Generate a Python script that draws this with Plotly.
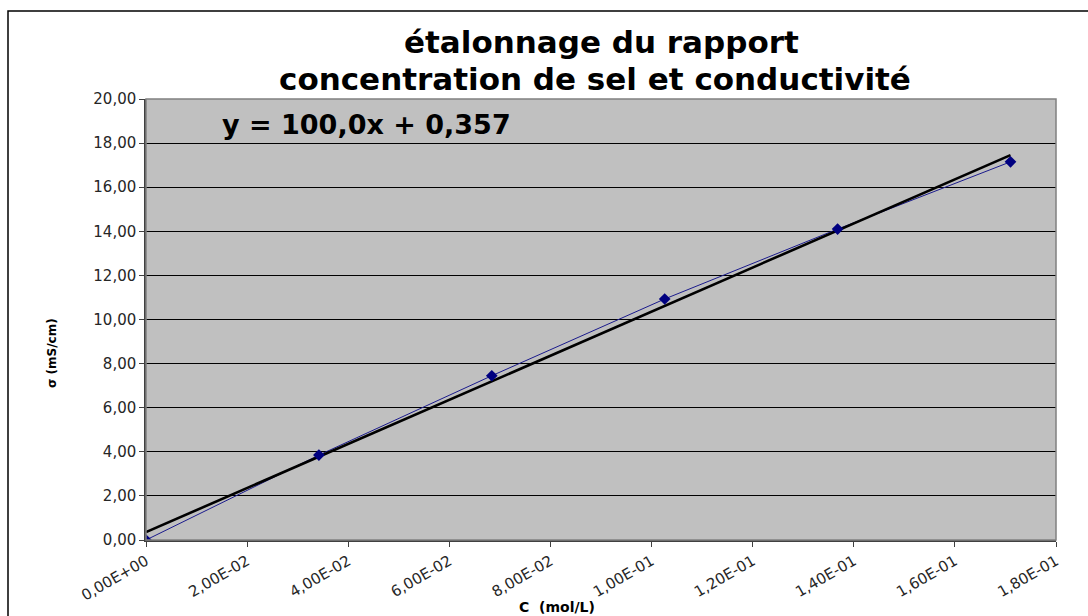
import plotly.graph_objects as go

# Data
conc = [0.0, 0.0342, 0.0684, 0.1026, 0.1368, 0.171]          # C (mol/L)
sigma = [0.0, 3.85, 7.45, 10.93, 14.10, 17.15]                # sigma (mS/cm)

# Linear trend line as displayed on the chart
trend_slope = 100.0
trend_intercept = 0.357
trend_x = [conc[0], conc[-1]]
trend_y = [trend_slope * v + trend_intercept for v in trend_x]

x_tickvals = [0.0, 0.02, 0.04, 0.06, 0.08, 0.10, 0.12, 0.14, 0.16, 0.18]
x_ticktext = ["0,00E+00", "2,00E-02", "4,00E-02", "6,00E-02", "8,00E-02",
              "1,00E-01", "1,20E-01", "1,40E-01", "1,60E-01", "1,80E-01"]
y_tickvals = [0, 2, 4, 6, 8, 10, 12, 14, 16, 18, 20]
y_ticktext = ["0,00", "2,00", "4,00", "6,00", "8,00", "10,00",
              "12,00", "14,00", "16,00", "18,00", "20,00"]

title_lines = ["étalonnage du rapport", "concentration de sel et conductivité"]
equation_text = "y = 100,0x + 0,357"
x_title = "C  (mol/L)"
y_title = "σ (mS/cm)"

W, H = 1088, 616
L, R, T, B = 146, 32, 99, 76
pw = W - L - R
ph = H - T - B


def px_x(px):
    return (px - L) / pw


def px_y(py):
    return 1 - (py - T) / ph


FONT = "DejaVu Sans, Arial, sans-serif"

fig = go.Figure()
fig.add_trace(go.Scatter(x=conc, y=sigma, mode="lines",
                         line=dict(color="#1a1a8c", width=1),
                         showlegend=False, hoverinfo="skip"))
fig.add_trace(go.Scatter(x=trend_x, y=trend_y, mode="lines",
                         line=dict(color="#000000", width=2.6),
                         showlegend=False))
fig.add_trace(go.Scatter(x=conc, y=sigma, mode="markers",
                         marker=dict(symbol="diamond", size=9, color="#000080"),
                         showlegend=False))

annotations = [
    dict(text=title_lines[0], xref="paper", yref="paper",
         x=px_x(601), y=px_y(42), xanchor="center", yanchor="middle",
         showarrow=False,
         font=dict(family=FONT, size=31, color="#000000", weight="bold")),
    dict(text=title_lines[1], xref="paper", yref="paper",
         x=px_x(595), y=px_y(79), xanchor="center", yanchor="middle",
         showarrow=False,
         font=dict(family=FONT, size=31, color="#000000", weight="bold")),
    dict(text=equation_text, xref="paper", yref="paper",
         x=px_x(220), y=px_y(124), xanchor="left", yanchor="middle",
         showarrow=False,
         font=dict(family=FONT, size=27, color="#000000", weight="bold")),
    dict(text=y_title, xref="paper", yref="paper",
         x=px_x(52), y=px_y(353), xanchor="center", yanchor="middle",
         textangle=-90, showarrow=False,
         font=dict(family=FONT, size=12, color="#000000", weight="bold")),
    dict(text=x_title, xref="paper", yref="paper",
         x=px_x(557), y=px_y(607), xanchor="center", yanchor="middle",
         showarrow=False,
         font=dict(family=FONT, size=14, color="#000000", weight="bold")),
]

fig.update_layout(
    width=W, height=H,
    margin=dict(l=L, r=R, t=T, b=B),
    paper_bgcolor="#ffffff",
    plot_bgcolor="#c0c0c0",
    font=dict(family=FONT, color="#222222"),
    xaxis=dict(range=[0, 0.18], tickvals=x_tickvals, ticktext=x_ticktext,
               tickangle=-30, showgrid=False, zeroline=False,
               showline=True, linecolor="#404040", linewidth=1.5,
               ticks="outside", ticklen=5, tickcolor="#404040",
               tickfont=dict(size=15, color="#262626")),
    yaxis=dict(range=[0, 20], tickvals=y_tickvals, ticktext=y_ticktext,
               showgrid=True, gridcolor="#000000", gridwidth=1, zeroline=False,
               showline=True, linecolor="#404040", linewidth=1.5,
               ticks="outside", ticklen=5, tickcolor="#404040",
               tickfont=dict(size=15, color="#262626")),
    shapes=[
        dict(type="rect", xref="paper", yref="paper", x0=0, x1=1, y0=0, y1=1,
             line=dict(color="#808080", width=1.5), layer="above"),
        dict(type="rect", xref="paper", yref="paper",
             x0=px_x(8), x1=px_x(1100), y0=px_y(630), y1=px_y(11),
             line=dict(color="#000000", width=1.5)),
    ],
    annotations=annotations,
)

fig.write_html("out.html",
               config={"displayModeBar": False},
               post_script="document.body.style.margin='0';document.body.style.overflow='hidden';")
